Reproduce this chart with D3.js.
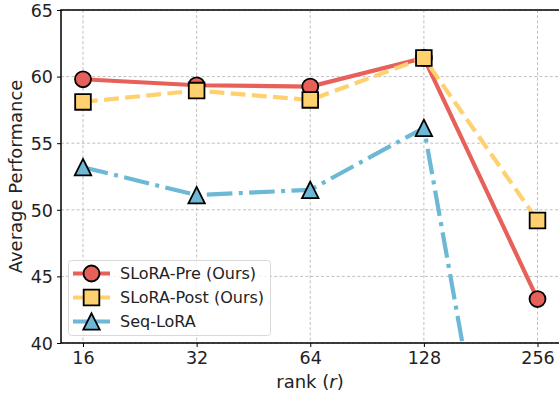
<!DOCTYPE html>
<html>
<head>
<meta charset="utf-8">
<script src="https://cdn.jsdelivr.net/npm/d3@7"></script>
<style>
  html, body { margin: 0; padding: 0; background: #fff; }
  svg { display: block; font-family: "DejaVu Sans", sans-serif; }
</style>
</head>
<body>
<svg id="chart" width="559" height="397"></svg>
<script>
// Rank settings on the x axis
const ranks = ["16", "32", "64", "128", "256"];
// Average performance per method
const sloraPre  = [59.8, 59.35, 59.25, 61.4, 43.3];
const sloraPost = [58.1, 58.95, 58.25, 61.4, 49.2];
const seqLora   = [53.2, 51.1, 51.5, 56.15, 8.5];
const yTicks = [40, 45, 50, 55, 60, 65];

const seriesNames  = ["SLoRA-Pre (Ours)", "SLoRA-Post (Ours)", "Seq-LoRA"];
const seriesColors = ["#E8605A", "#FFD06E", "#6CB8D5"];

const svg = d3.select("#chart");
const plot = { left: 61, right: 560, top: 10, bottom: 343 };

const x = d3.scalePoint().domain(ranks).range([83, 537.5]);
const y = d3.scaleLinear().domain([40, 65]).range([plot.bottom, plot.top]);

svg.append("defs").append("clipPath").attr("id", "plotClip")
  .append("rect")
  .attr("x", plot.left).attr("y", plot.top)
  .attr("width", plot.right - plot.left).attr("height", plot.bottom - plot.top);

// Grid
const grid = svg.append("g");
grid.selectAll(".gx").data(ranks).join("line")
  .attr("x1", d => x(d)).attr("x2", d => x(d))
  .attr("y1", plot.top).attr("y2", plot.bottom)
  .attr("stroke", "#b0b0b0").attr("stroke-width", 0.8).attr("stroke-dasharray", "3,2.2");
grid.selectAll(".gy").data(yTicks).join("line")
  .attr("x1", plot.left).attr("x2", plot.right)
  .attr("y1", d => y(d)).attr("y2", d => y(d))
  .attr("stroke", "#b0b0b0").attr("stroke-width", 0.8).attr("stroke-dasharray", "3,2.2");

// Axes
const xAxis = svg.append("g").attr("transform", `translate(0,${plot.bottom})`)
  .call(d3.axisBottom(x).tickSize(4).tickPadding(5));
const yAxis = svg.append("g").attr("transform", `translate(${plot.left},0)`)
  .call(d3.axisLeft(y).tickValues(yTicks).tickSize(4).tickPadding(4));
[xAxis, yAxis].forEach(a => {
  a.select(".domain").remove();
  a.selectAll("line").attr("stroke", "#000").attr("stroke-width", 1);
  a.selectAll("text").attr("font-size", 17.5).attr("fill", "#222")
    .attr("font-family", "DejaVu Sans, sans-serif");
});
yAxis.selectAll("text").attr("dy", "0.36em");

// Frame
svg.append("rect")
  .attr("x", plot.left).attr("y", plot.top)
  .attr("width", plot.right - plot.left).attr("height", plot.bottom - plot.top)
  .attr("fill", "none").attr("stroke", "#000").attr("stroke-width", 1.5);

// Axis titles
const xt = svg.append("text")
  .attr("x", 310).attr("y", 388)
  .attr("text-anchor", "middle").attr("font-size", 18).attr("fill", "#222");
xt.append("tspan").text("rank (");
xt.append("tspan").attr("font-style", "italic").text("r");
xt.append("tspan").text(")");

svg.append("text")
  .attr("transform", `translate(22,${(plot.top + plot.bottom) / 2}) rotate(-90)`)
  .attr("text-anchor", "middle").attr("font-size", 18).attr("fill", "#222")
  .text("Average Performance");

// Marker shapes: circle, square and an isosceles up-triangle
const triangleUp = {
  draw(ctx, size) {
    const h = Math.sqrt(size) / 2;
    ctx.moveTo(0, -h);
    ctx.lineTo(h, h);
    ctx.lineTo(-h, h);
    ctx.closePath();
  }
};
const symbolFor = [d3.symbolCircle, d3.symbolSquare, triangleUp];
const symbolSize = [200, 245, 270];
const dashes = [null, "14.8,6.4", "25.6,6.4,4,6.4"];

const series = [sloraPre, sloraPost, seqLora];
const drawOrder = [0, 1, 2];

const lines = svg.append("g").attr("clip-path", "url(#plotClip)");
const line = d3.line().x((d, i) => x(ranks[i])).y(d => y(d));

drawOrder.forEach(k => {
  const g = lines.append("g");
  g.append("path")
    .attr("d", line(series[k]))
    .attr("fill", "none")
    .attr("stroke", seriesColors[k])
    .attr("stroke-width", 4.2)
    .attr("stroke-dasharray", dashes[k]);
  g.selectAll("path.m").data(series[k]).join("path")
    .attr("class", "m")
    .attr("transform", (d, i) => `translate(${x(ranks[i])},${y(d)})`)
    .attr("d", d3.symbol().type(symbolFor[k]).size(symbolSize[k]))
    .attr("fill", seriesColors[k])
    .attr("stroke", "#000")
    .attr("stroke-width", 1.8);
});

// Legend
const legend = svg.append("g");
legend.append("rect")
  .attr("x", 68.5).attr("y", 260.5).attr("width", 202).attr("height", 75)
  .attr("rx", 3).attr("fill", "#fff").attr("fill-opacity", 0.8)
  .attr("stroke", "#d9d9d9").attr("stroke-width", 1);

seriesNames.forEach((name, k) => {
  const cy = 273.5 + k * 24;
  legend.append("line")
    .attr("x1", 73).attr("x2", 110).attr("y1", cy).attr("y2", cy)
    .attr("stroke", seriesColors[k]).attr("stroke-width", 4.2);
  legend.append("path")
    .attr("transform", `translate(91.5,${cy})`)
    .attr("d", d3.symbol().type(symbolFor[k]).size(symbolSize[k]))
    .attr("fill", seriesColors[k]).attr("stroke", "#000").attr("stroke-width", 1.8);
  legend.append("text")
    .attr("x", 120).attr("y", cy).attr("dy", "0.36em")
    .attr("font-size", 16).attr("fill", "#222")
    .text(name);
});
</script>
</body>
</html>
